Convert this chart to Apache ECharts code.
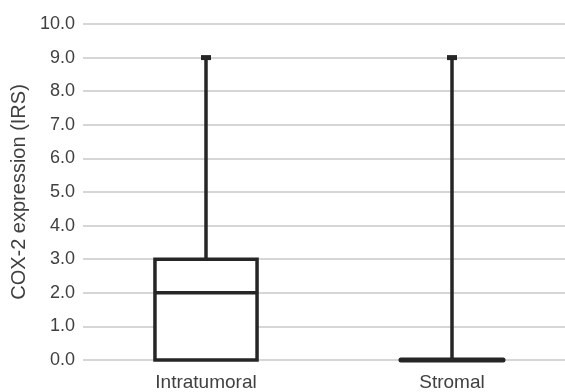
<!DOCTYPE html>
<html>
<head>
<meta charset="utf-8">
<script src="https://cdn.jsdelivr.net/npm/echarts@6/dist/echarts.min.js"></script>
<style>html,body{margin:0;padding:0;background:#fff}#c{width:565px;height:392px}</style>
</head>
<body>
<div id="c"></div>
<script>
// Data
var categories = ['Intratumoral', 'Stromal'];
var minValues = [0, 0];
var q1Values = [0, 0];
var medianValues = [2, 0];
var q3Values = [3, 0];
var maxValues = [9, 9];
var yTickValues = [0, 1, 2, 3, 4, 5, 6, 7, 8, 9, 10];
var yAxisTitle = 'COX-2 expression (IRS)';

var FONT = '"Liberation Sans", Arial, Helvetica, sans-serif';
var TEXT = '#404040';
var LINE = '#262626';

var seriesData = categories.map(function (c, i) {
  return [i, minValues[i], q1Values[i], medianValues[i], q3Values[i], maxValues[i]];
});

var chart = echarts.init(document.getElementById('c'), null, {renderer: 'canvas'});
chart.setOption({
  animation: false,
  backgroundColor: '#fff',
  grid: {left: 83, top: 24, width: 492, height: 336, containLabel: false, outerBoundsMode: 'none'},
  xAxis: {
    type: 'category',
    data: categories,
    axisLine: {show: false},
    axisTick: {show: false},
    axisLabel: {color: TEXT, fontSize: 19, fontFamily: FONT, margin: 13},
    splitLine: {show: false}
  },
  yAxis: {
    type: 'value',
    min: yTickValues[0],
    max: yTickValues[yTickValues.length - 1],
    interval: 1,
    name: yAxisTitle,
    nameLocation: 'middle',
    nameGap: 53,
    nameTextStyle: {color: TEXT, fontSize: 20, fontFamily: FONT},
    axisLine: {show: false},
    axisTick: {show: false},
    axisLabel: {
      color: TEXT, fontSize: 18, fontFamily: FONT, margin: 8,
      formatter: function (v) { return v.toFixed(1); }
    },
    splitLine: {lineStyle: {color: '#c8c8c8', width: 1.5}}
  },
  series: [{
    type: 'custom',
    data: seriesData,
    encode: {x: 0, y: [1, 2, 3, 4, 5]},
    renderItem: function (params, api) {
      var x = api.value(0);
      var pMin = api.coord([x, api.value(1)]);
      var pQ1 = api.coord([x, api.value(2)]);
      var pMed = api.coord([x, api.value(3)]);
      var pQ3 = api.coord([x, api.value(4)]);
      var pMax = api.coord([x, api.value(5)]);
      var band = api.size([1, 0])[0];
      var bw = band * 0.415;
      var cx = pMed[0];
      var left = cx - bw / 2, right = cx + bw / 2;
      var ls = {stroke: LINE, lineWidth: 3.5, fill: null};
      var children = [];
      // whiskers
      children.push({type: 'line', shape: {x1: cx, y1: pQ3[1], x2: cx, y2: pMax[1]}, style: ls});
      children.push({type: 'line', shape: {x1: cx, y1: pQ1[1], x2: cx, y2: pMin[1]}, style: ls});
      // caps
      children.push({type: 'rect', shape: {x: cx - 5, y: pMax[1] - 2.5, width: 10, height: 5}, style: {fill: LINE}});
      // box
      var h = pQ1[1] - pQ3[1];
      if (h > 0.5) {
        children.push({type: 'rect', shape: {x: left, y: pQ3[1], width: bw, height: h}, style: {stroke: LINE, lineWidth: 3.5, fill: '#fff'}});
      } else {
        children.push({type: 'line', shape: {x1: left, y1: pQ1[1], x2: right, y2: pQ1[1]}, style: {stroke: LINE, lineWidth: 5, lineCap: 'round'}});
      }
      // median
      children.push({type: 'line', shape: {x1: left, y1: pMed[1], x2: right, y2: pMed[1]}, style: ls});
      return {type: 'group', children: children};
    }
  }]
});
</script>
</body>
</html>
